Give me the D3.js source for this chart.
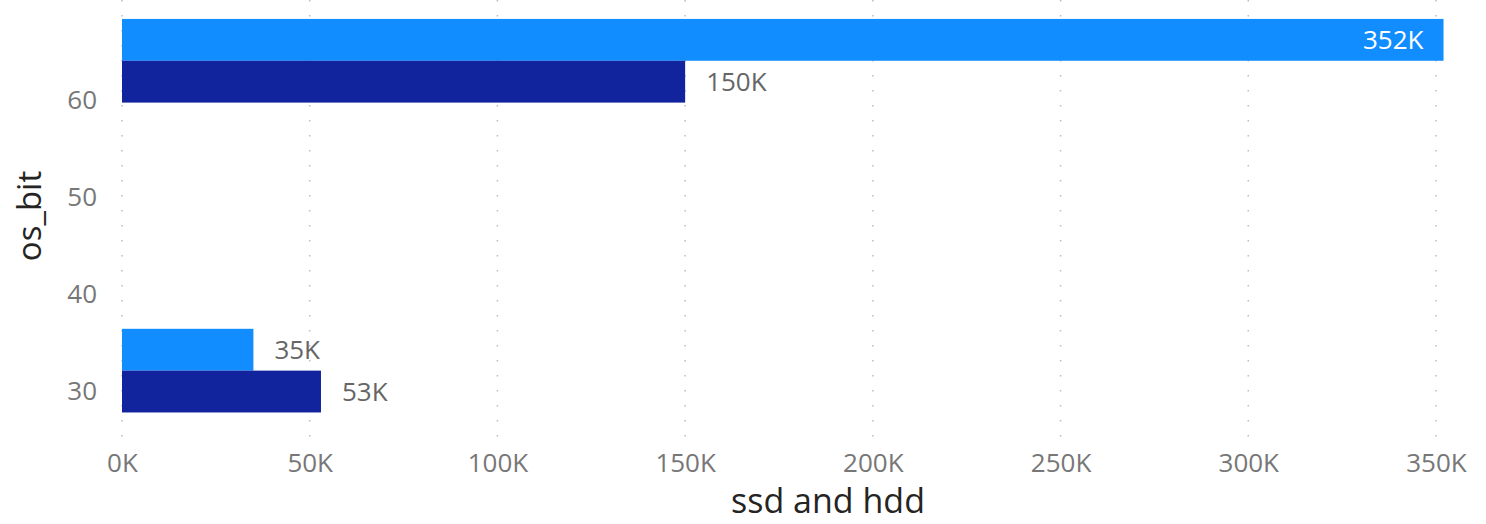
<!DOCTYPE html>
<html>
<head>
<meta charset="utf-8">
<script src="https://cdn.jsdelivr.net/npm/d3@7"></script>
<style>
  html, body { margin: 0; padding: 0; background: #fff; }
  svg { display: block; font-family: "Segoe UI", "Open Sans", sans-serif; }
</style>
</head>
<body>
<svg id="chart" width="1486" height="524"></svg>
<script>
// ---- data ----
const categories = [64, 32];              // os_bit
const seriesNames = ["ssd", "hdd"];
const ssdValues = [352000, 35000];
const hddValues = [150000, 53000];
const xTickValues = [0, 50000, 100000, 150000, 200000, 250000, 300000, 350000];
const yTickValues = [30, 40, 50, 60];
const xTitle = "ssd and hdd";
const yTitle = "os_bit";

// ---- layout ----
const colors = { ssd: "#118DFF", hdd: "#12239E" };
const svg = d3.select("#chart");
const gridTop = 0, gridBottom = 437;
const halfBand = 4.32; // bar thickness in os_bit units

const x = d3.scaleLinear().domain([0, 350000]).range([122, 1436]);
const y = d3.scaleLinear().domain([30, 60]).range([390, 99.5]);

// gridlines
svg.append("g").selectAll("line").data(xTickValues).join("line")
  .attr("x1", d => x(d)).attr("x2", d => x(d))
  .attr("y1", gridTop).attr("y2", gridBottom)
  .attr("stroke", "#bdbdbd").attr("stroke-width", 1.5)
  .attr("stroke-dasharray", "1.5,13.5");

// bars
const rows = categories.map((c, i) => ({ cat: c, ssd: ssdValues[i], hdd: hddValues[i] }));
const bars = [];
rows.forEach(r => {
  bars.push({ s: "ssd", cat: r.cat, v: r.ssd, top: y(r.cat + halfBand), bot: y(r.cat) });
  bars.push({ s: "hdd", cat: r.cat, v: r.hdd, top: y(r.cat), bot: y(r.cat - halfBand) });
});

svg.append("g").selectAll("rect").data(bars).join("rect")
  .attr("x", x(0))
  .attr("y", d => d.top)
  .attr("width", d => x(d.v) - x(0))
  .attr("height", d => d.bot - d.top)
  .attr("fill", d => colors[d.s]);

// data labels
const fmtK = v => Math.round(v / 1000) + "K";
svg.append("g").selectAll("text").data(bars).join("text")
  .attr("x", d => x(d.v) > 1300 ? x(d.v) - 20 : x(d.v) + 21)
  .attr("y", d => (d.top + d.bot) / 2 + 2)
  .attr("text-anchor", d => x(d.v) > 1300 ? "end" : "start")
  .attr("dominant-baseline", "middle")
  .attr("font-size", 26)
  .attr("fill", d => x(d.v) > 1300 ? "#ffffff" : "#666666")
  .text(d => fmtK(d.v));

// x axis ticks
const xAxis = d3.axisBottom(x).tickValues(xTickValues).tickFormat(fmtK).tickSize(0).tickPadding(0);
const gx = svg.append("g").attr("transform", "translate(0,452)").call(xAxis);
gx.select(".domain").remove();
gx.selectAll("text").attr("font-size", 26).attr("fill", "#777777")
  .attr("font-family", "'Segoe UI','Open Sans',sans-serif").attr("dy", "0.75em");

// y axis ticks
const yAxis = d3.axisLeft(y).tickValues(yTickValues).tickFormat(d3.format("d")).tickSize(0).tickPadding(0);
const gy = svg.append("g").attr("transform", "translate(97,0)").call(yAxis);
gy.select(".domain").remove();
gy.selectAll("text").attr("font-size", 26).attr("fill", "#777777")
  .attr("font-family", "'Segoe UI','Open Sans',sans-serif").attr("dy", "0.35em");

// titles
svg.append("text")
  .attr("x", 828).attr("y", 513)
  .attr("text-anchor", "middle")
  .attr("font-size", 34).attr("fill", "#252423")
  .text(xTitle);

svg.append("text")
  .attr("transform", "translate(41,216) rotate(-90)")
  .attr("text-anchor", "middle")
  .attr("font-size", 33).attr("fill", "#252423")
  .text(yTitle);
</script>
</body>
</html>
